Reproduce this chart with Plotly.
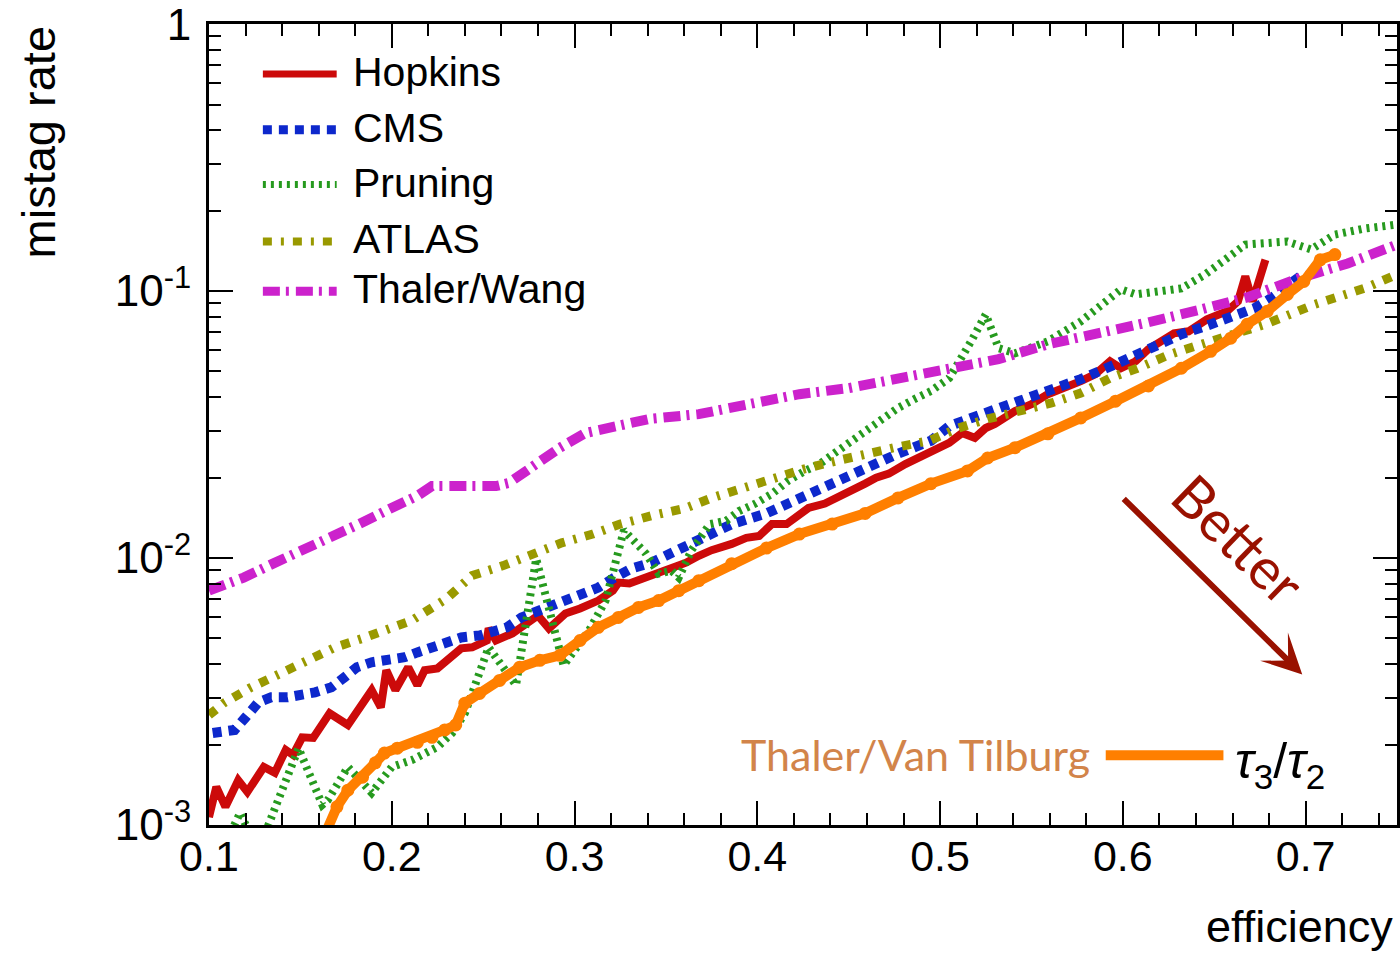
import plotly.graph_objects as go

# ---------------- data ----------------
hopkins_x = [0.100, 0.104, 0.109, 0.116, 0.121, 0.130, 0.136, 0.142, 0.146, 0.151,
             0.157, 0.166, 0.176, 0.189, 0.194, 0.197, 0.202, 0.209, 0.214, 0.218,
             0.225, 0.233, 0.238, 0.244, 0.252, 0.253, 0.257, 0.266, 0.275, 0.280,
             0.286, 0.295, 0.303, 0.313, 0.321, 0.324, 0.330, 0.339, 0.350, 0.361,
             0.368, 0.375, 0.386, 0.394, 0.401, 0.408, 0.416, 0.423, 0.428, 0.437,
             0.444, 0.452, 0.459, 0.465, 0.472, 0.481, 0.488, 0.495, 0.505, 0.512,
             0.519, 0.525, 0.530, 0.541, 0.550, 0.559, 0.568, 0.577, 0.585, 0.593,
             0.599, 0.607, 0.614, 0.628, 0.636, 0.646, 0.657, 0.663, 0.667, 0.671,
             0.678]
hopkins_y = [0.00107, 0.00139, 0.00117, 0.00147, 0.00133, 0.00165, 0.00157, 0.00191, 0.00183, 0.00213,
             0.00212, 0.00262, 0.00237, 0.00320, 0.00276, 0.00380, 0.00320, 0.00390, 0.00334, 0.00380,
             0.00386, 0.00432, 0.00459, 0.00463, 0.00491, 0.00545, 0.00491, 0.00522, 0.00569, 0.00609,
             0.00545, 0.00620, 0.00647, 0.00693, 0.00755, 0.00809, 0.00803, 0.00845, 0.00897, 0.00961,
             0.0102, 0.0107, 0.0113, 0.0119, 0.0121, 0.0134, 0.0134, 0.0147, 0.0154, 0.0160,
             0.0168, 0.0179, 0.0190, 0.0200, 0.0207, 0.0225, 0.0237, 0.0252, 0.0270, 0.0294,
             0.0282, 0.0307, 0.0318, 0.0355, 0.0377, 0.0411, 0.0433, 0.0460, 0.0489, 0.0546,
             0.0514, 0.0546, 0.0606, 0.0695, 0.0707, 0.0784, 0.0840, 0.0915, 0.1135, 0.0915,
             0.131]

cms_x = [0.102, 0.114, 0.120, 0.127, 0.134, 0.143, 0.158, 0.167, 0.174, 0.181,
         0.189, 0.198, 0.207, 0.214, 0.222, 0.231, 0.238, 0.248, 0.263, 0.271,
         0.281, 0.295, 0.304, 0.313, 0.321, 0.331, 0.342, 0.353, 0.364, 0.386,
         0.405, 0.423, 0.441, 0.459, 0.477, 0.495, 0.505, 0.523, 0.541, 0.559,
         0.577, 0.596, 0.614, 0.632, 0.645, 0.657, 0.672, 0.681, 0.692, 0.697]
cms_y = [0.00221, 0.00227, 0.00253, 0.00288, 0.00301, 0.00301, 0.00314, 0.00328, 0.00357, 0.00390,
         0.00407, 0.00414, 0.00425, 0.00443, 0.00463, 0.00491, 0.00504, 0.00513, 0.00550, 0.00599,
         0.00636, 0.00693, 0.00736, 0.00775, 0.00838, 0.00913, 0.00961, 0.0105, 0.0114, 0.0134,
         0.0147, 0.0168, 0.0190, 0.0218, 0.0246, 0.0275, 0.0312, 0.0346, 0.0381, 0.0422,
         0.0468, 0.0532, 0.0606, 0.0689, 0.0738, 0.0784, 0.0862, 0.0939, 0.1087, 0.1135]

pruning_x = [0.110, 0.117, 0.124, 0.132, 0.149, 0.162, 0.165, 0.176, 0.189, 0.200,
             0.211, 0.225, 0.233, 0.240, 0.253, 0.268, 0.279, 0.294, 0.308, 0.317,
             0.327, 0.339, 0.346, 0.353, 0.357, 0.364, 0.374, 0.383, 0.390, 0.399,
             0.408, 0.417, 0.426, 0.434, 0.444, 0.459, 0.468, 0.477, 0.487, 0.495,
             0.505, 0.510, 0.517, 0.525, 0.532, 0.541, 0.550, 0.559, 0.568, 0.577,
             0.586, 0.596, 0.599, 0.607, 0.618, 0.632, 0.645, 0.656, 0.667, 0.690,
             0.703, 0.716, 0.732, 0.750]
pruning_y = [0.00088, 0.00111, 0.00088, 0.00098, 0.00194, 0.00119, 0.00124, 0.00165, 0.00132, 0.00165,
             0.00175, 0.00196, 0.00221, 0.00262, 0.00463, 0.00334, 0.00995, 0.00396, 0.00536, 0.00693,
             0.0127, 0.0104, 0.00874, 0.00897, 0.00845, 0.0107, 0.0134, 0.0138, 0.0150, 0.0160,
             0.0174, 0.0195, 0.0212, 0.0225, 0.0252, 0.0299, 0.0335, 0.0365, 0.0397, 0.0422,
             0.0472, 0.0532, 0.0649, 0.0818, 0.0611, 0.0585, 0.0611, 0.0649, 0.0707, 0.0770,
             0.0862, 0.0972, 0.1015, 0.0972, 0.0997, 0.1023, 0.1154, 0.1325, 0.1494, 0.1533,
             0.1432, 0.1628, 0.1714, 0.1775]

atlas_x = [0.100, 0.108, 0.122, 0.138, 0.154, 0.169, 0.184, 0.200, 0.211, 0.230,
           0.244, 0.261, 0.277, 0.293, 0.310, 0.325, 0.342, 0.361, 0.375, 0.392,
           0.410, 0.426, 0.443, 0.459, 0.477, 0.494, 0.510, 0.526, 0.544, 0.561,
           0.577, 0.593, 0.608, 0.626, 0.643, 0.659, 0.678, 0.705, 0.732, 0.750]
atlas_y = [0.00258, 0.00286, 0.00325, 0.00364, 0.00414, 0.00463, 0.00500, 0.00545, 0.00584, 0.00705,
           0.00860, 0.00937, 0.0104, 0.0114, 0.0123, 0.0134, 0.0144, 0.0154, 0.0168, 0.0183,
           0.0198, 0.0216, 0.0231, 0.0246, 0.0261, 0.0275, 0.0307, 0.0332, 0.0355, 0.0381,
           0.0415, 0.0472, 0.0514, 0.0580, 0.0632, 0.0689, 0.0751, 0.0892, 0.1023, 0.1154]

wang_x = [0.100, 0.119, 0.135, 0.151, 0.168, 0.182, 0.199, 0.214, 0.222, 0.257,
          0.264, 0.279, 0.292, 0.306, 0.324, 0.341, 0.368, 0.395, 0.423, 0.450,
          0.477, 0.505, 0.532, 0.559, 0.586, 0.614, 0.641, 0.668, 0.696, 0.723,
          0.750]
wang_y = [0.00755, 0.00845, 0.00953, 0.0107, 0.0119, 0.0134, 0.0153, 0.0171, 0.0186, 0.0186,
          0.0191, 0.0225, 0.0259, 0.0294, 0.0312, 0.0332, 0.0346, 0.0377, 0.0411, 0.0433,
          0.0472, 0.0514, 0.0556, 0.0632, 0.0689, 0.0764, 0.0847, 0.0947, 0.1115, 0.1269,
          0.1494]

nsub_x = [0.164, 0.170, 0.176, 0.184, 0.191, 0.196, 0.203, 0.214, 0.222, 0.229,
          0.235, 0.240, 0.248, 0.259, 0.270, 0.281, 0.292, 0.303, 0.313, 0.324,
          0.335, 0.346, 0.357, 0.368, 0.386, 0.405, 0.423, 0.441, 0.459, 0.477,
          0.495, 0.515, 0.526, 0.541, 0.559, 0.577, 0.596, 0.614, 0.632, 0.648,
          0.659, 0.668, 0.679, 0.690, 0.699, 0.708, 0.716]
nsub_y = [0.00094, 0.00117, 0.00135, 0.00151, 0.00171, 0.00186, 0.00194, 0.00204, 0.00213, 0.00227,
          0.00237, 0.00286, 0.00311, 0.00348, 0.00390, 0.00414, 0.00432, 0.00491, 0.00550, 0.00599,
          0.00653, 0.00693, 0.00755, 0.00823, 0.00953, 0.0109, 0.0123, 0.0134, 0.0147, 0.0168,
          0.0190, 0.0212, 0.0237, 0.0259, 0.0292, 0.0335, 0.0387, 0.0441, 0.0514, 0.0595,
          0.0666, 0.0751, 0.0840, 0.0972, 0.1087, 0.131, 0.137]

legend_names = ["Hopkins", "CMS", "Pruning", "ATLAS", "Thaler/Wang"]
x_ticks = [0.1, 0.2, 0.3, 0.4, 0.5, 0.6, 0.7]
y_ticks = [0.001, 0.01, 0.1, 1]
y_tick_text = ["10<sup>-3</sup>", "10<sup>-2</sup>", "10<sup>-1</sup>", "1"]

# ---------------- styles ----------------
RED, BLUE, GREEN, OLIVE, MAGENTA, ORANGE = "#CC0A0A", "#0D28CC", "#269A1E", "#999900", "#CC22CC", "#FF7F00"
DARKRED = "#991100"
FONT = "Liberation Sans, Arial, Helvetica, sans-serif"
HUMAN = "Lato, Open Sans, sans-serif"

styles = [
    dict(color=RED, width=8, dash="solid"),
    dict(color=BLUE, width=10, dash="9px,7px"),
    dict(color=GREEN, width=8, dash="3px,5px"),
    dict(color=OLIVE, width=9, dash="9px,9px,3px,9px"),
    dict(color=MAGENTA, width=10, dash="17px,6px,3px,7px"),
]
series = [(hopkins_x, hopkins_y), (cms_x, cms_y), (pruning_x, pruning_y),
          (atlas_x, atlas_y), (wang_x, wang_y)]

fig = go.Figure()
for (xs, ys), st, nm in zip(series, styles, legend_names):
    fig.add_trace(go.Scatter(x=xs, y=ys, mode="lines", name=nm, showlegend=False,
                             line=dict(color=st["color"], width=st["width"], dash=st["dash"])))
fig.add_trace(go.Scatter(x=nsub_x, y=nsub_y, mode="lines+markers", name="τ3/τ2", showlegend=False,
                         line=dict(color=ORANGE, width=10),
                         marker=dict(color=ORANGE, size=13)))

# ---------------- layout ----------------
L, R, T, B = 209, 0, 22, 131
W, H = 1400, 956
pw, ph = W - L - R, H - T - B

def px_x(px):
    return (px - L) / pw

def px_y(py):
    return (H - B - py) / ph

shapes = []
annotations = []
rows = [72, 128, 183, 240, 290]
for row, st, nm in zip(rows, styles, legend_names):
    shapes.append(dict(type="line", xref="paper", yref="paper",
                       x0=px_x(263), x1=px_x(337), y0=px_y(row), y1=px_y(row),
                       line=dict(color=st["color"], width=st["width"] - 1, dash=st["dash"])))
    annotations.append(dict(xref="paper", yref="paper", x=px_x(351), y=px_y(row - 2),
                            xanchor="left", yanchor="middle", text=nm, showarrow=False,
                            font=dict(family=FONT, size=41, color="black")))

# orange legend at bottom
shapes.append(dict(type="line", xref="paper", yref="paper",
                   x0=px_x(1108), x1=px_x(1226), y0=px_y(755), y1=px_y(755),
                   line=dict(color=ORANGE, width=10)))
annotations.append(dict(xref="paper", yref="paper", x=px_x(1094), y=px_y(754),
                        xanchor="right", yanchor="middle", text="Thaler/Van Tilburg",
                        showarrow=False, font=dict(family=HUMAN, size=43, color="#D2844A")))
annotations.append(dict(xref="paper", yref="paper", x=px_x(1236), y=px_y(764),
                        xanchor="left", yanchor="middle",
                        text="<i>τ</i><sub>3</sub>/<i>τ</i><sub>2</sub>",
                        showarrow=False, font=dict(family=FONT, size=50, color="black")))

# Better arrow
annotations.append(dict(xref="paper", yref="paper", x=px_x(1305), y=px_y(674),
                        ax=1125 - 1305, ay=497 - 674, axref="pixel", ayref="pixel",
                        text="", showarrow=True, arrowhead=3, arrowsize=1.1, arrowwidth=6,
                        arrowcolor=DARKRED))
annotations.append(dict(xref="paper", yref="paper", x=px_x(1242), y=px_y(538),
                        xanchor="center", yanchor="middle", text="Better", textangle=44,
                        showarrow=False, font=dict(family=HUMAN, size=57, color=DARKRED)))

# axis titles
annotations.append(dict(xref="paper", yref="paper", x=px_x(38), y=px_y(22),
                        xanchor="center", yanchor="top", text="mistag rate", textangle=-90,
                        showarrow=False, font=dict(family=FONT, size=47, color="black")))
annotations.append(dict(xref="paper", yref="paper", x=px_x(1398), y=px_y(927),
                        xanchor="right", yanchor="middle", text="efficiency",
                        showarrow=False, font=dict(family=FONT, size=45, color="black")))

y_minor = [k * 10.0 ** e for e in (-3, -2, -1) for k in range(2, 10)]

fig.update_layout(
    width=W, height=H,
    margin=dict(l=L, r=R, t=T, b=B, pad=0),
    paper_bgcolor="white", plot_bgcolor="white",
    showlegend=False,
    shapes=shapes,
    annotations=annotations,
    xaxis=dict(range=[0.1, 0.75], showline=True, linecolor="black", linewidth=3,
               mirror="ticks", ticks="inside", ticklen=24, tickwidth=2, tickcolor="black",
               tickvals=x_ticks, ticktext=[f"{v:.1f}" for v in x_ticks],
               tickfont=dict(family=FONT, size=43, color="black"),
               ticklabelstandoff=-9, ticklabeloverflow="allow",
               showgrid=False, zeroline=False,
               minor=dict(ticks="inside", ticklen=12, tickwidth=2, tickcolor="black",
                          dtick=0.02, tick0=0.1, showgrid=False)),
    yaxis=dict(type="log", range=[-3, 0.0005], showline=True, linecolor="black", linewidth=3,
               mirror="ticks", ticks="inside", ticklen=24, tickwidth=2, tickcolor="black",
               tickvals=y_ticks, ticktext=y_tick_text,
               tickfont=dict(family=FONT, size=44, color="black"),
               ticklabelstandoff=6, ticklabeloverflow="allow",
               showgrid=False, zeroline=False,
               minor=dict(ticks="inside", ticklen=12, tickwidth=2, tickcolor="black",
                          tickvals=y_minor, showgrid=False)),
)

fig.write_html("out.html")
